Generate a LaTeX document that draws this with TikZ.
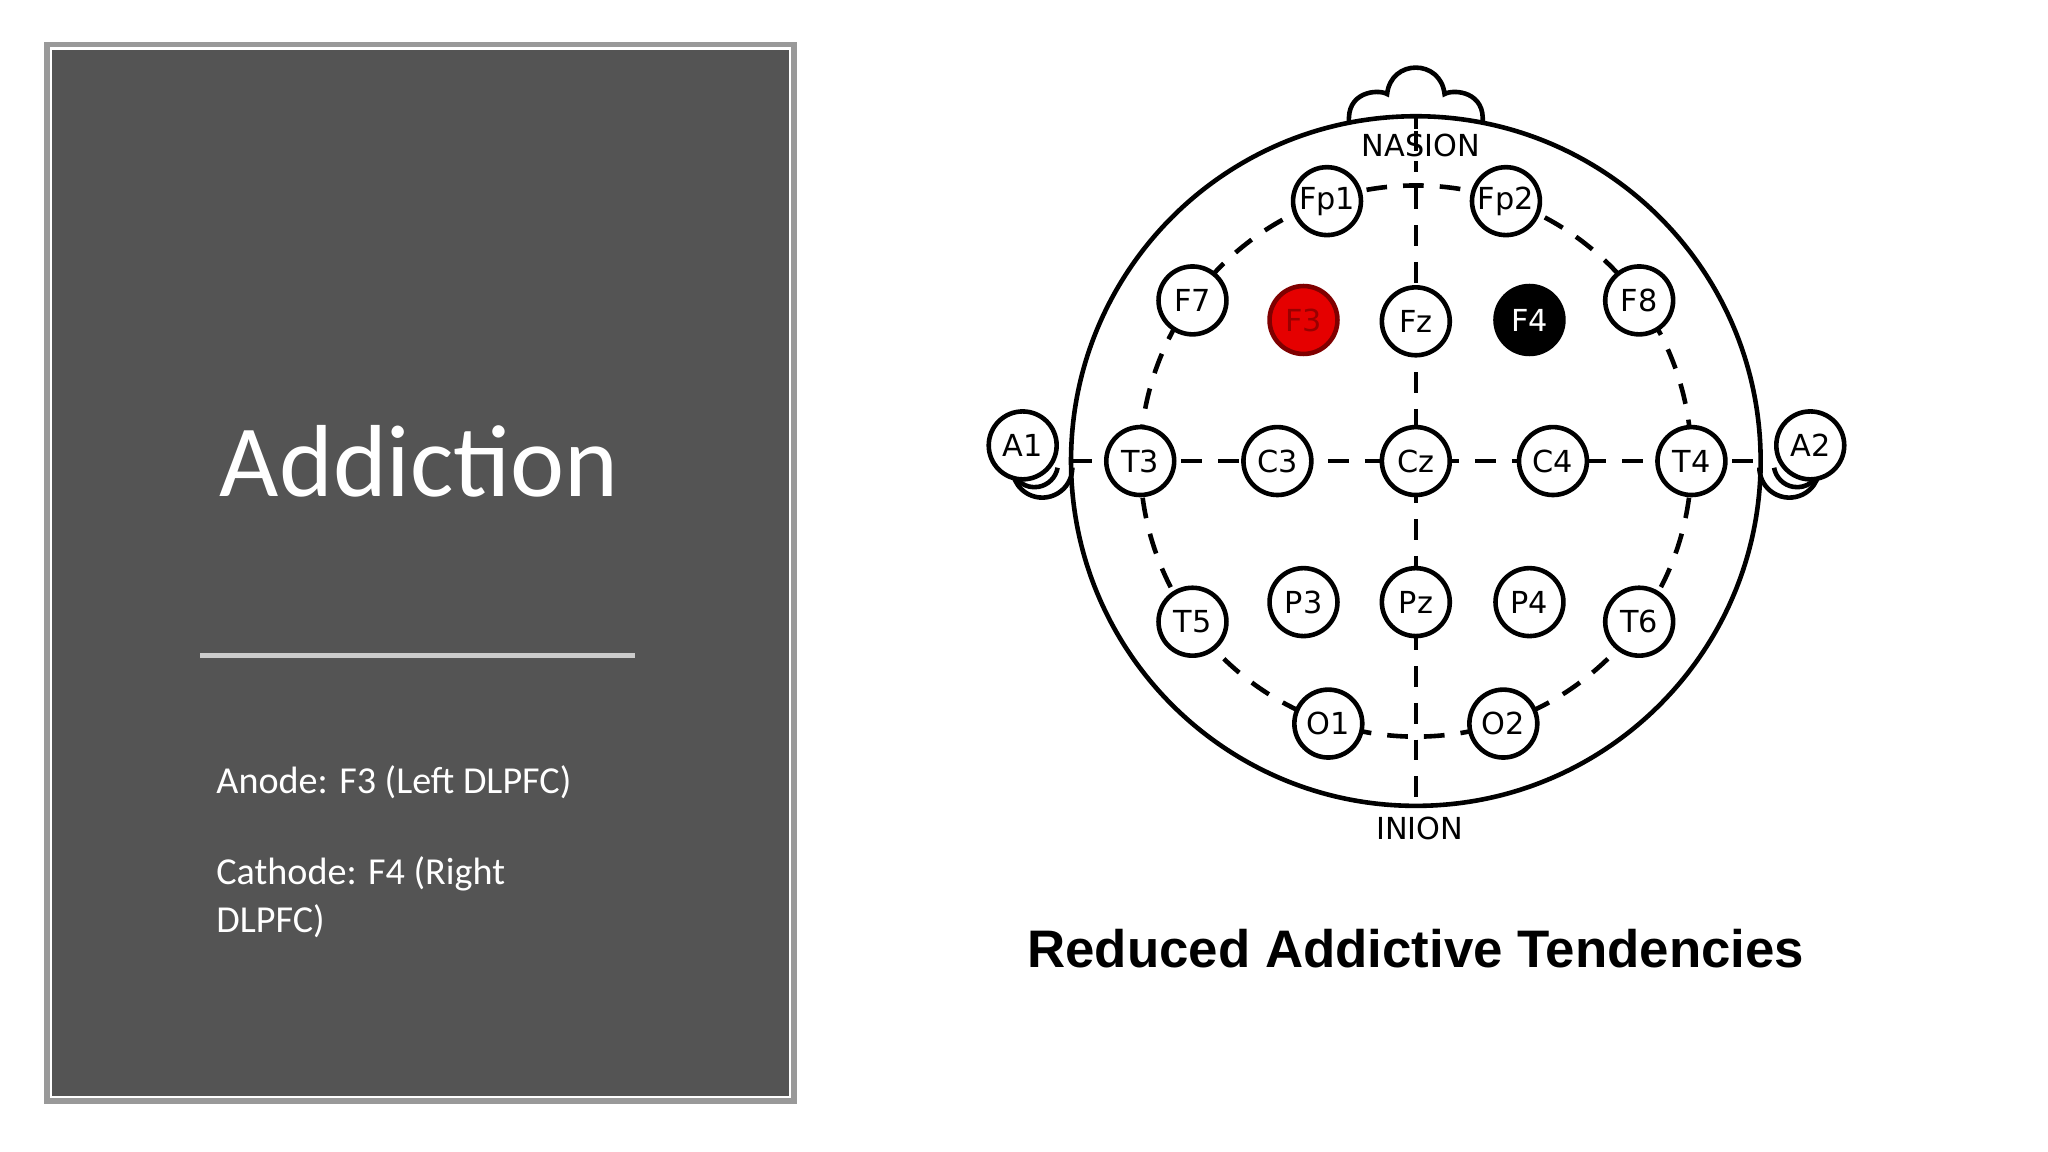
\documentclass[tikz,border=0pt]{standalone}
\usepackage{fontspec}
\setmainfont{Carlito}
\newfontfamily\dejavu{DejaVu Sans}
\newfontfamily\arialfont{Liberation Sans}
\begin{document}
\begin{tikzpicture}[x=0.01cm,y=-0.01cm,
  elec/.style={circle,draw,line width=1pt,minimum size=52*0.01cm,inner sep=0pt,fill=white,font=\dejavu\fontsize{6.6}{7}\selectfont},
  ln/.style={line width=1pt},
  dsh/.style={line width=1pt,dash pattern=on 4.5pt off 3.5pt}]
\useasboundingbox (0,0) rectangle (1568,882);
\fill[white] (0,0) rectangle (1568,882);
% left panel
\draw[gray!80,line width=1.2pt] (36,34) rectangle (608,843);
\fill[black!67] (40,38) rectangle (604,839);
\node[text=white,font=\fontsize{22.3}{26}\selectfont] (title) at (321,353) {Addiction};
\draw[gray!40,line width=1.2pt] (153,502) -- (486,502);
\node[anchor=west,inner sep=0pt,text=white,font=\fontsize{8.3}{10.3}\selectfont] (an) at (165,599) {Anode: F3 (Left DLPFC)};
\node[anchor=west,inner sep=0pt,text=white,align=left,font=\fontsize{8.3}{10.3}\selectfont] (ca) at (165,687) {Cathode: F4 (Right\\DLPFC)};
% head
\draw[ln,fill=white] (1033,95) .. controls (1030,70) and (1055,68) .. (1062,72) .. controls (1065,45) and (1103,45) .. (1106,72) .. controls (1113,68) and (1138,70) .. (1135,95);
\draw[ln,fill=white] (1084,353) circle (264);
% ears
\draw[ln] (798,358) ++(200:23) arc (200:0:23);
\draw[ln] (792,355) ++(170:18) arc (170:10:18);
\draw[ln] (1370,358) ++(-20:23) arc (-20:180:23);
\draw[ln] (1376,355) ++(10:18) arc (10:170:18);
\draw[dsh] (1084,353) circle (211);
\coordinate (top) at (1084,88);
\coordinate (bot) at (1084,612);
\coordinate (lft) at (820,353);
\coordinate (rgt) at (1348,353);
\draw[dsh] (top) -- (bot);
\draw[dsh] (lft) -- (rgt);
\node[elec] (A1) at (783,341) {A1};
\node[elec] (A2) at (1386,341) {A2};
\node[fill=white,inner sep=1pt,font=\dejavu\fontsize{6.6}{7}\selectfont] (nas) at (1088,111) {NASION};
\draw[dsh] (1084,100) -- (1084,122);
\node[fill=white,inner sep=1pt,font=\dejavu\fontsize{6.6}{7}\selectfont] (ini) at (1087,634) {INION};
\foreach \n/\x/\y in {Fp1/1016/154,Fp2/1153/154,F7/913/230,Fz/1084/246,F8/1255/230,T3/873/353,C3/978/353,Cz/1084/353,C4/1189/353,T4/1295/353,T5/913/476,P3/998/461,Pz/1084/461,P4/1171/461,T6/1255/476,O1/1017/554,O2/1151/554}
  \node[elec] (\n) at (\x,\y) {\n};
\node[elec,fill=red!90!black,draw=red!50!black,text=red!60!black] (F3) at (998,245) {F3};
\node[elec,fill=black,text=white] (F4) at (1171,245) {F4};
\node[font=\arialfont\bfseries\fontsize{11.5}{13}\selectfont] (cap) at (1084,726) {Reduced Addictive Tendencies};
\end{tikzpicture}
\end{document}
